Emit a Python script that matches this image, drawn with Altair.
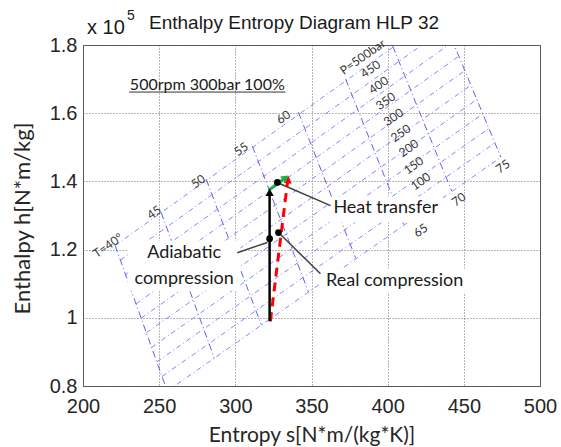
import altair as alt
import pandas as pd

# ---------------- data ----------------
# Isotherms (°C): end points at p = 500 bar (top) and p = 0 bar (bottom); s in N*m/(kg*K), h in 1e5 N*m/kg
T_values = [40, 45, 50, 55, 60, 65, 70, 75]
isotherm_s_top = [221.1, 251.3, 280.9, 311.2, 341.4, 372.4, 403.3, 434.9]
isotherm_h_top = [1.212, 1.309, 1.406, 1.503, 1.603, 1.700, 1.797, 1.894]
isotherm_s_bot = [255.3, 286.2, 317.1, 348.0, 378.9, 410.5, 442.1, 474.3]
isotherm_h_bot = [0.785, 0.882, 0.979, 1.076, 1.176, 1.274, 1.371, 1.471]

# Isobars (bar): end points on the 40 °C and 75 °C isotherms
p_values = [500, 450, 400, 350, 300, 250, 200, 150, 100, 50, 0]
isobar_s_T40 = [221.1, 224.5, 228.0, 231.4, 234.8, 238.2, 241.6, 245.0, 248.5, 251.9, 255.3]
isobar_h_T40 = [1.212, 1.169, 1.127, 1.084, 1.041, 0.999, 0.956, 0.913, 0.871, 0.828, 0.785]
isobar_s_T75 = [434.9, 438.8, 442.8, 446.7, 450.7, 454.6, 458.5, 462.5, 466.4, 470.4, 474.3]
isobar_h_T75 = [1.894, 1.852, 1.809, 1.767, 1.725, 1.682, 1.640, 1.598, 1.555, 1.513, 1.471]

# isotherm labels
T_label_text = ["T=40°", "45", "50", "55", "60", "65", "70", "75"]
T_label_s = [216.4, 246.7, 275.7, 303.9, 331.6, 421.7, 446.7, 475.7]
T_label_h = [1.212, 1.309, 1.400, 1.494, 1.588, 1.256, 1.347, 1.444]

# isobar labels
p_label_text = ["P=500bar", "450", "400", "350", "300", "250", "200", "150", "100"]
p_label_s = [383.6, 388.8, 394.1, 398.7, 403.9, 408.6, 413.8, 417.1, 421.7]
p_label_h = [1.765, 1.729, 1.682, 1.635, 1.588, 1.541, 1.497, 1.447, 1.400]

# process: adiabatic compression, real compression, heat transfer
adiabatic_s = [322.5, 322.5]
adiabatic_h = [0.990, 1.368]
real_s = [323.0, 334.4]
real_h = [0.990, 1.403]
heat_s = [321.9, 332.5]
heat_h = [1.374, 1.409]
points_s = [322.5, 328.3, 327.6]
points_h = [1.232, 1.250, 1.397]

x_ticks = [200, 250, 300, 350, 400, 450, 500]
y_ticks = [0.8, 1.0, 1.2, 1.4, 1.6, 1.8]

# ---------------- tables ----------------
iso_T = pd.DataFrame(
    [{"T": t, "s": s0, "h": h0, "o": 0} for t, s0, h0 in zip(T_values, isotherm_s_top, isotherm_h_top)]
    + [{"T": t, "s": s1, "h": h1, "o": 1} for t, s1, h1 in zip(T_values, isotherm_s_bot, isotherm_h_bot)]
)
iso_p = pd.DataFrame(
    [{"p": p, "s": s0, "h": h0, "o": 0} for p, s0, h0 in zip(p_values, isobar_s_T40, isobar_h_T40)]
    + [{"p": p, "s": s1, "h": h1, "o": 1} for p, s1, h1 in zip(p_values, isobar_s_T75, isobar_h_T75)]
)
T_lab = pd.DataFrame({"t": T_label_text, "s": T_label_s, "h": T_label_h})
p_lab = pd.DataFrame({"t": p_label_text, "s": p_label_s, "h": p_label_h})
ad_df = pd.DataFrame({"s": adiabatic_s, "h": adiabatic_h, "o": [0, 1]})
re_df = pd.DataFrame({"s": real_s, "h": real_h, "o": [0, 1]})
ht_df = pd.DataFrame({"s": heat_s, "h": heat_h, "o": [0, 1]})
pt_df = pd.DataFrame({"s": points_s, "h": points_h})

# annotations (text, leader lines, arrow heads, white boxes)
heads = pd.DataFrame({"s": [322.5, 334.6, 333.0], "h": [1.368, 1.405, 1.411],
                      "a": [0, 7, 53], "c": ["#000000", "#ff0000", "#1fae45"]})
leaders = pd.DataFrame({"g": [0, 0, 1, 1, 2, 2],
                        "s": [329.0, 362.5, 329.0, 355.9, 301.3, 321.0],
                        "h": [1.394, 1.329, 1.247, 1.129, 1.191, 1.221]})
boxes = pd.DataFrame({"s": [229.6, 361.2, 355.9], "s2": [303.3, 436.2, 454.6],
                      "h": [1.2265, 1.3559, 1.1441], "h2": [1.0794, 1.2794, 1.0735]})
notes = pd.DataFrame({"t": ["Heat transfer", "Real compression", "Adiabatic", "compression"],
                      "s": [398.7, 404.6, 266.4, 266.4], "h": [1.321, 1.109, 1.191, 1.115]})
cond = pd.DataFrame({"t": ["500rpm 300bar 100%"], "s": [281.6], "h": [1.684]})
uline = pd.DataFrame({"s": [230.3], "s2": [332.9], "h": [1.662]})

# ---------------- encodings ----------------
X = alt.X("s:Q", scale=alt.Scale(domain=[200, 500], nice=False, zero=False),
          axis=alt.Axis(values=x_ticks, format="d", title="Entropy s[N*m/(kg*K)]",
                        grid=True, gridDash=[1, 2], gridColor="#6e6e6e", gridWidth=1,
                        ticks=False, tickSize=0, domain=False, labelFlush=False, labelOverlap=False,
                        labelFont="Liberation Sans", labelFontSize=20, labelColor="#262626",
                        labelPadding=10, titleFont="Lato", titleFontSize=21,
                        titleFontWeight="normal", titleColor="#262626",
                        titleY=49, titleBaseline="middle"))
Y = alt.Y("h:Q", scale=alt.Scale(domain=[0.8, 1.8], nice=False, zero=False),
          axis=alt.Axis(values=y_ticks, format="~g", title="Enthalpy h[N*m/kg]",
                        grid=True, gridDash=[1, 2], gridColor="#6e6e6e", gridWidth=1,
                        ticks=False, tickSize=0, domain=False, labelFlush=False, labelOverlap=False,
                        labelFont="Liberation Sans", labelFontSize=20, labelColor="#262626",
                        labelPadding=6, titleFont="Lato", titleFontSize=22,
                        titleFontWeight="normal", titleColor="#262626",
                        titleAngle=270, titleX=-61, titleY=173, titleBaseline="middle",
                        titleAlign="center"))

isobars = alt.Chart(iso_p).mark_line(clip=True, color="#8585ff", strokeWidth=1,
                                     strokeDash=[5, 3, 1, 3]).encode(
    x=X, y=Y, detail="p:N", order="o:Q")
isotherms = alt.Chart(iso_T).mark_line(clip=True, color="#5f5ff5", strokeWidth=1,
                                       strokeDash=[7, 3, 1, 3]).encode(
    x="s:Q", y="h:Q", detail="T:N", order="o:Q")
Tlabels = alt.Chart(T_lab).mark_text(font="Lato", fontSize=12, angle=325, color="#333333",
                                     align="center", baseline="middle").encode(
    x="s:Q", y="h:Q", text="t:N")
plabels = alt.Chart(p_lab).mark_text(font="Lato", fontSize=12, angle=325, color="#333333",
                                     align="center", baseline="middle").encode(
    x="s:Q", y="h:Q", text="t:N")

box_layer = alt.Chart(boxes).mark_rect(color="white").encode(x="s:Q", x2="s2:Q", y="h:Q", y2="h2:Q")
leader_layer = alt.Chart(leaders).mark_line(color="#404040", strokeWidth=1.5).encode(
    x="s:Q", y="h:Q", detail="g:N")
real_line = alt.Chart(re_df).mark_line(color="#ff0000", strokeWidth=3, strokeDash=[9, 6]).encode(
    x="s:Q", y="h:Q", order="o:Q")
ad_line = alt.Chart(ad_df).mark_line(color="#000000", strokeWidth=2.5).encode(
    x="s:Q", y="h:Q", order="o:Q")
heat_line = alt.Chart(ht_df).mark_line(color="#1fae45", strokeWidth=3).encode(
    x="s:Q", y="h:Q", order="o:Q")
head_layer = alt.Chart(heads).mark_point(shape="triangle-up", filled=True, size=70, opacity=1).encode(
    x="s:Q", y="h:Q", angle=alt.Angle("a:Q", scale=None), color=alt.Color("c:N", scale=None))
dots = alt.Chart(pt_df).mark_circle(color="black", size=45, opacity=1).encode(x="s:Q", y="h:Q")
note_layer = alt.Chart(notes).mark_text(font="Lato", fontSize=18, color="#1a1a1a").encode(
    x="s:Q", y="h:Q", text="t:N")
cond_layer = alt.Chart(cond).mark_text(font="Lato", fontSize=16, color="#1a1a1a").encode(
    x="s:Q", y="h:Q", text="t:N")
uline_layer = alt.Chart(uline).mark_rule(color="#333333", strokeWidth=1).encode(
    x="s:Q", x2="s2:Q", y="h:Q")

title_layer = alt.Chart(pd.DataFrame({"t": ["Enthalpy Entropy Diagram HLP 32"]})).mark_text(
    font="Liberation Sans", fontSize=19, color="#1a1a1a", align="left", baseline="alphabetic"
).encode(x=alt.value(66), y=alt.value(-16), text="t:N")
exp_layer = alt.Chart(pd.DataFrame({"t": ["x 10"]})).mark_text(
    font="Liberation Sans", fontSize=20, color="#1a1a1a", align="left", baseline="alphabetic"
).encode(x=alt.value(4), y=alt.value(-11), text="t:N")
exp5_layer = alt.Chart(pd.DataFrame({"t": ["5"]})).mark_text(
    font="Liberation Sans", fontSize=14, color="#1a1a1a", align="left", baseline="alphabetic"
).encode(x=alt.value(44), y=alt.value(-25), text="t:N")

chart = alt.layer(
    isobars, isotherms, Tlabels, plabels, box_layer, leader_layer,
    real_line, ad_line, heat_line, head_layer, dots, note_layer, cond_layer, uline_layer,
    title_layer, exp_layer, exp5_layer
).properties(
    width=457, height=341,
    autosize=alt.AutoSizeParams(type="none"),
    padding={"left": 83, "top": 45, "right": 21, "bottom": 61},
    background="white"
).configure_view(stroke="#4d4d4d", strokeWidth=1)

chart.save("out.html", embed_options={"renderer": "svg", "actions": False})
